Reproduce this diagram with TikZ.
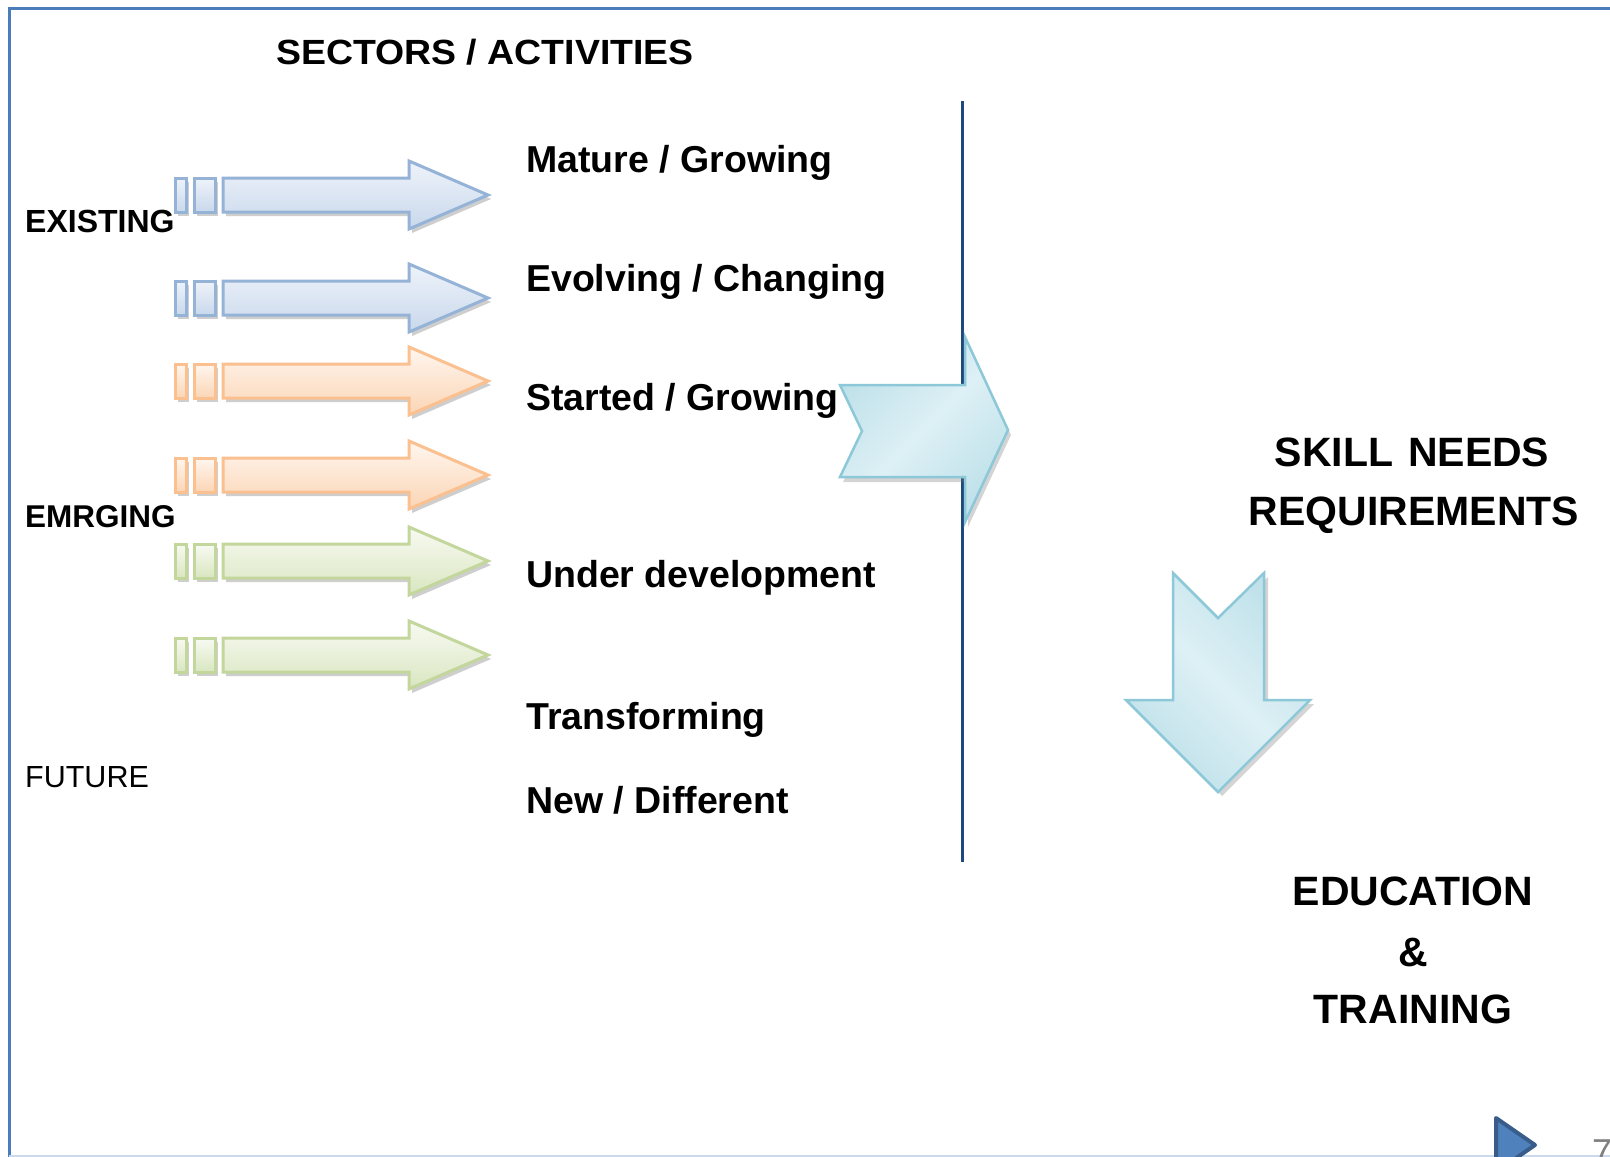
\documentclass[tikz,border=0pt]{standalone}
\usepackage{fontspec}
\setmainfont{Liberation Sans}
\definecolor{frameblue}{HTML}{4A7EBB}
\definecolor{divider}{HTML}{1F497D}
\definecolor{blueO}{HTML}{95B3D7}
\definecolor{blueT}{HTML}{EEF3FA}
\definecolor{blueB}{HTML}{C9D8EC}
\definecolor{orangeO}{HTML}{FAC090}
\definecolor{orangeT}{HTML}{FFF6EF}
\definecolor{orangeB}{HTML}{FBD5B5}
\definecolor{greenO}{HTML}{C3D69B}
\definecolor{greenT}{HTML}{F8FAF2}
\definecolor{greenB}{HTML}{D9E6C0}
\definecolor{cyanO}{HTML}{8DC8D8}
\definecolor{cyanA}{HTML}{BFE1EA}
\definecolor{cyanM}{HTML}{DDF0F5}
\definecolor{playF}{HTML}{4F81BD}
\definecolor{playO}{HTML}{385D8A}
\tikzset{
  bigtext/.style={font=\fontsize{37.5}{45}\selectfont\bfseries, inner sep=0pt, anchor=base west},
  sidetext/.style={font=\fontsize{32}{38}\selectfont\bfseries, inner sep=0pt, anchor=base west},
  righttext/.style={font=\fontsize{41}{48}\selectfont\bfseries, inner sep=0pt, anchor=base},
}
\newcommand{\sectarrow}[4]{%
  % #1 centre y, #2 outline, #3 top fill, #4 bottom fill
  \begin{scope}[shift={(3,4)}]
    \fill[black!55, opacity=0.35] (175,#1-17) rectangle (186,#1+17);
    \fill[black!55, opacity=0.35] (194,#1-17) rectangle (215,#1+17);
    \fill[black!55, opacity=0.35] (223,#1-17) -- (409,#1-17) -- (409,#1-34) -- (488,#1) -- (409,#1+34) -- (409,#1+17) -- (223,#1+17) -- cycle;
  \end{scope}
  \draw[#2, line width=3pt, top color=#3, bottom color=#4] (175,#1-17) rectangle (186,#1+17);
  \draw[#2, line width=3pt, top color=#3, bottom color=#4] (194,#1-17) rectangle (215,#1+17);
  \draw[#2, line width=3pt, top color=#3, bottom color=#4] (223,#1-17) -- (409,#1-17) -- (409,#1-34) -- (488,#1) -- (409,#1+34) -- (409,#1+17) -- (223,#1+17) -- cycle;
}
\begin{document}
\begin{tikzpicture}[x=1pt, y=-1pt]
\useasboundingbox (0,0) rectangle (1610,1157);
\fill[white] (0,0) rectangle (1610,1157);
% frame
\draw[frameblue, line width=3pt] (9,1170) -- (9,8) -- (1620,8);
\draw[blueT!60!blueO, line width=1.5pt] (9,1156) -- (1620,1156);

% title
\node[bigtext, font=\fontsize{35}{42}\selectfont\bfseries, xscale=1.07] (title) at (276,64) {SECTORS / ACTIVITIES};

% small arrows
\sectarrow{195}{blueO}{blueT}{blueB}
\sectarrow{298}{blueO}{blueT}{blueB}
\sectarrow{381}{orangeO}{orangeT}{orangeB}
\sectarrow{475}{orangeO}{orangeT}{orangeB}
\sectarrow{561}{greenO}{greenT}{greenB}
\sectarrow{655}{greenO}{greenT}{greenB}

% left labels
\node[sidetext] (existing) at (25,232) {EXISTING};
\node[sidetext, font=\fontsize{31.5}{38}\selectfont\bfseries] (emrging) at (25,527) {EMRGING};
\node[sidetext, font=\fontsize{30.5}{37}\selectfont] (future) at (25,787) {FUTURE};

% category labels
\node[bigtext] (mature) at (526,172) {Mature / Growing};
\node[bigtext] (evolving) at (526,291) {Evolving / Changing};
\node[bigtext] (started) at (526,410) {Started / Growing};
\node[bigtext] (under) at (526,587) {Under development};
\node[bigtext] (transf) at (526,729) {Transforming};
\node[bigtext] (new) at (526,813) {New / Different};

% divider
\draw[divider, line width=3pt] (962,101) -- (962,862);

% big chevron arrow
\fill[black!55, opacity=0.3, shift={(3,5)}] (840,385) -- (965,385) -- (965,337) -- (1008,430) -- (965,522) -- (965,477) -- (840,477) -- (862,431) -- cycle;
\draw[cyanO, line width=2.5pt, line join=miter, top color=cyanA, bottom color=cyanA, middle color=cyanM, shading angle=45] (840,385) -- (965,385) -- (965,337) -- (1008,430) -- (965,522) -- (965,477) -- (840,477) -- (862,431) -- cycle;

% down arrow
\fill[black!55, opacity=0.3, shift={(4,4)}] (1173,573) -- (1218,618) -- (1264,573) -- (1264,700) -- (1310,700) -- (1218,792) -- (1126,700) -- (1173,700) -- cycle;
\draw[cyanO, line width=2.5pt, line join=miter, top color=cyanA, bottom color=cyanA, middle color=cyanM, shading angle=-45] (1173,573) -- (1218,618) -- (1264,573) -- (1264,700) -- (1310,700) -- (1218,792) -- (1126,700) -- (1173,700) -- cycle;

% right labels
\node[righttext] (skill) at (1412,466) {SKILL\hspace{15pt}NEEDS};
\node[righttext] (req) at (1414,525) {REQUIREMENTS};
\node[righttext] (edu) at (1413,905) {EDUCATION};
\node[righttext] (amp) at (1413,966) {\&};
\node[righttext] (train) at (1413,1023) {TRAINING};

% footer
\draw[playO, fill=playF, line width=4pt, line join=round] (1496,1118) -- (1535,1145) -- (1496,1172) -- cycle;
\node[inner sep=0pt, anchor=base west, text=black!50, font=\fontsize{36}{40}\selectfont] (pagenum) at (1592,1164) {7};
\end{tikzpicture}
\end{document}
